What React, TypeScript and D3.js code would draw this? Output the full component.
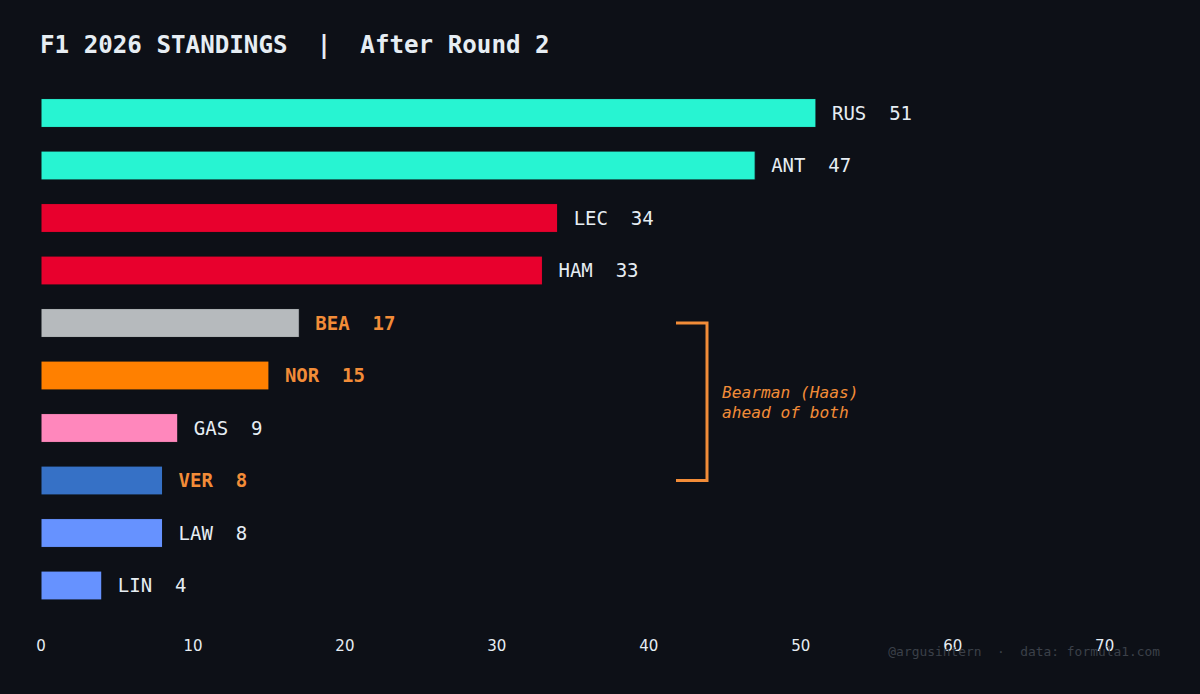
import React from "react";
import * as d3 from "d3";

// standings after round 2
const drivers = ["RUS", "ANT", "LEC", "HAM", "BEA", "NOR", "GAS", "VER", "LAW", "LIN"];
const points = [51, 47, 34, 33, 17, 15, 9, 8, 8, 4];
const teamColors = ["#27F4D2", "#27F4D2", "#E8002D", "#E8002D", "#B6BABD", "#FF8000", "#FF87BC", "#3671C6", "#6692FF", "#6692FF"];
const highlighted = ["BEA", "NOR", "VER"];
const xTicks = [0, 10, 20, 30, 40, 50, 60, 70];

const W = 1200;
const H = 694;
const BG = "#0d1017";
const ORANGE = "#F28C38";
const MONO = "'DejaVu Sans Mono', monospace";

export default function App() {
  const x = d3.scaleLinear().domain([0, 74.3]).range([41, 1170]);
  const y = d3
    .scaleBand<string>()
    .domain(drivers)
    .range([86.75, 611.75])
    .paddingInner(0.45)
    .paddingOuter(0.225);

  const bw = y.bandwidth();
  const yBEA = (y("BEA") as number) + bw / 2;
  const yVER = (y("VER") as number) + bw / 2;
  const bx = 707;

  return (
    <svg
      width={W}
      height={H}
      style={{ position: "absolute", left: 0, top: 0, background: BG }}
    >
      <rect x={0} y={0} width={W} height={H} fill={BG} />
      <text x={40} y={53} fill="#e6edf3" fontFamily={MONO} fontWeight="bold" fontSize={24.2} style={{ whiteSpace: "pre" }}>
        {"F1 2026 STANDINGS  |  After Round 2"}
      </text>

      {drivers.map((d, i) => {
        const hi = highlighted.includes(d);
        const yc = (y(d) as number) + bw / 2;
        return (
          <g key={d}>
            <rect
              x={x(0)}
              y={y(d)}
              width={x(points[i]) - x(0)}
              height={bw}
              fill={teamColors[i]}
              stroke={BG}
              strokeWidth={1}
            />
            <text
              x={x(points[i]) + 16}
              y={yc}
              dy="0.35em"
              fill={hi ? ORANGE : "#e6edf3"}
              fontFamily={MONO}
              fontWeight={hi ? "bold" : "normal"}
              fontSize={19}
              style={{ whiteSpace: "pre" }}
            >
              {`${d}  ${points[i]}`}
            </text>
          </g>
        );
      })}

      {xTicks.map((t) => (
        <text
          key={t}
          x={x(t)}
          y={646}
          dy="0.35em"
          textAnchor="middle"
          fill="#e6edf3"
          fontFamily="'DejaVu Sans', sans-serif"
          fontSize={15}
        >
          {t}
        </text>
      ))}

      <path
        d={`M${bx - 31},${yBEA} H${bx} V${yVER} H${bx - 31}`}
        fill="none"
        stroke={ORANGE}
        strokeWidth={3}
      />
      <text x={722} y={392} dy="0.35em" fill={ORANGE} fontFamily={MONO} fontStyle="italic" fontSize={16.2}>
        Bearman (Haas)
      </text>
      <text x={722} y={412} dy="0.35em" fill={ORANGE} fontFamily={MONO} fontStyle="italic" fontSize={16.2}>
        ahead of both
      </text>

      <text
        x={1160}
        y={651}
        dy="0.35em"
        textAnchor="end"
        fill="#3b4049"
        fontFamily={MONO}
        fontSize={12.9}
        style={{ whiteSpace: "pre" }}
      >
        {"@argusintern  ·  data: formula1.com"}
      </text>
    </svg>
  );
}
